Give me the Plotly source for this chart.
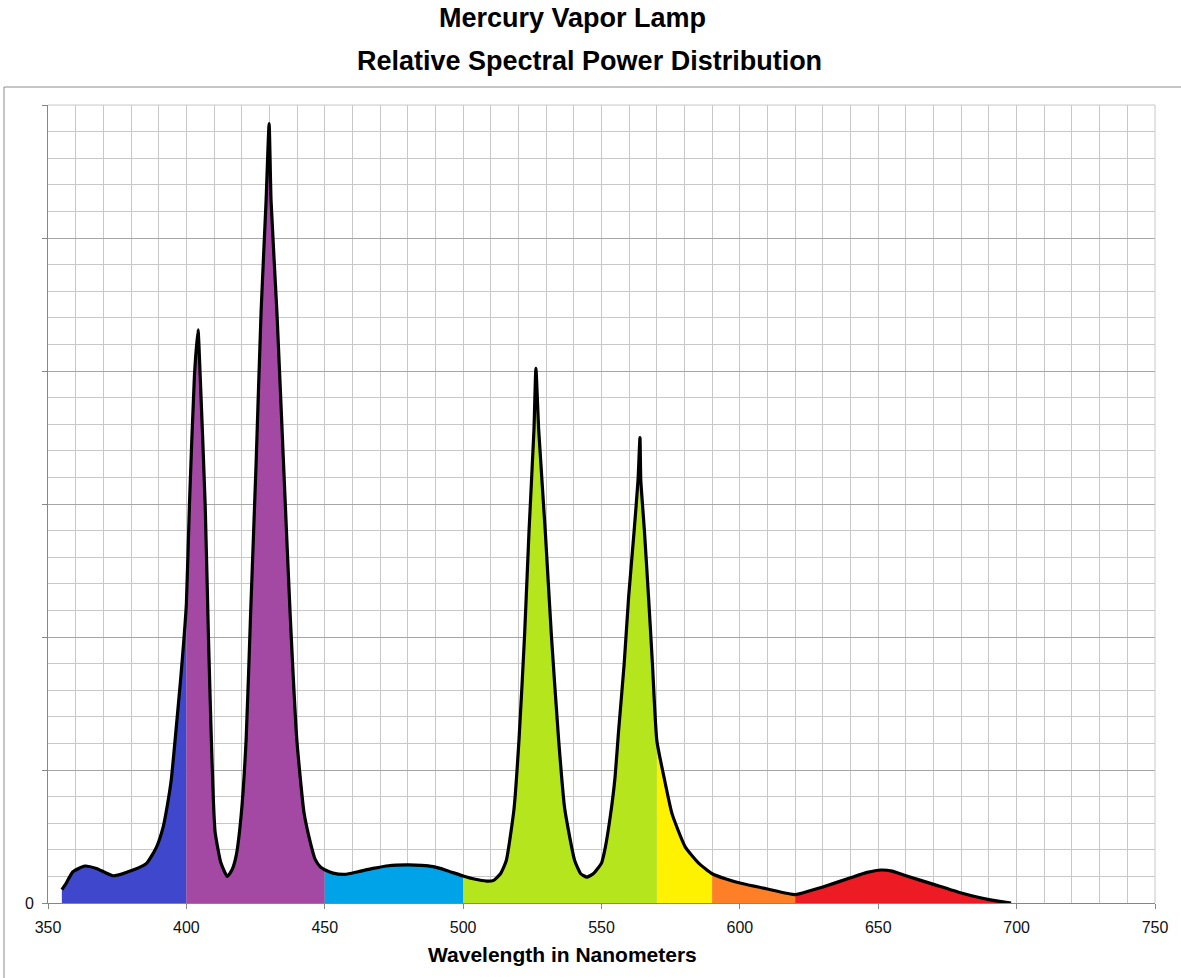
import plotly.graph_objects as go

# ---- data ----
wavelength = [
    355, 356.6, 359, 363.3, 367.5, 373.5, 380.7, 385.6, 389.2, 391.6, 393, 394.5,
    396.3, 398, 399.1, 400,
    401.1, 402.9, 404.2, 405.0, 406.8, 408.0, 408.9, 409.8, 410.4, 412.5, 414.8,
    416.5, 418.0, 419.8, 421.6, 423.2, 425.2, 427.0, 428.8, 429.9, 430.6, 432.7,
    435.1, 437.5, 439.9, 442.5, 444.5, 446.5, 448.5, 450,
    453, 457.3, 462, 467.5, 473, 479.6, 485, 489.2, 494, 500,
    504, 508.5, 511, 513.5, 515.6, 518.4, 520.2, 522.2, 523.8, 525.6, 526.3,
    527.3, 529.7, 531.9, 534.5, 536.7, 540.3, 542.5, 544.7, 547, 550, 551.4,
    553.3, 554.8, 556.2, 558.2, 559.8, 561.8, 563.2, 563.9, 564.2, 565.5, 567,
    568.4, 570,
    572.8, 575.5, 580.3, 585.1, 590,
    595, 600, 610, 620,
    625, 630, 640, 646, 651, 655, 660, 670, 680, 690, 698,
]
power = [
    10, 15, 23.5, 27.8, 26, 20.5, 24.8, 29.8, 42, 57, 72, 92,
    131, 170, 198, 225,
    299, 396, 431, 396, 299, 198, 131, 75, 53, 30, 20,
    25, 35.6, 66, 123, 217, 331, 445, 528, 586, 528, 445,
    331, 217, 123, 68, 48, 33, 27, 25,
    22.5, 21.5, 23.5, 26, 28, 28.6, 28.3, 27.3, 24.5, 20.3,
    18, 16.5, 17, 22, 32, 71, 123, 201, 279, 356, 402,
    356, 279, 201, 123, 71, 32, 22, 19.5, 22, 30, 42,
    67, 92.5, 130, 180, 230, 280, 318, 350, 318, 280, 230,
    180, 122,
    92.5, 67, 42, 30, 22,
    18, 15, 10.5, 6.3,
    9, 12, 19, 23, 24.8, 24, 20.5, 14, 7.5, 2.5, 0,
]

band_edges = [355, 400, 450, 500, 570, 590, 620, 698]
band_colors = ["#3F48CC", "#A349A4", "#00A2E8", "#B5E61D", "#FFF200", "#FF7F27", "#ED1C24"]

x_tick_vals = [350, 400, 450, 500, 550, 600, 650, 700, 750]
y_tick_vals = [0, 100, 200, 300, 400, 500, 600]
y_tick_text = ["0", "", "", "", "", "", ""]

title_1 = "Mercury Vapor Lamp"
title_2 = "Relative Spectral Power Distribution"
x_title = "Wavelength in Nanometers"

# ---- figure ----
fig = go.Figure()

SMOOTH = 0.5
for lo, hi, col in zip(band_edges[:-1], band_edges[1:], band_colors):
    bx = [w for w in wavelength if lo <= w <= hi]
    by = [p for w, p in zip(wavelength, power) if lo <= w <= hi]
    fig.add_trace(go.Scatter(
        x=bx, y=by, mode="lines",
        line=dict(width=0, color=col, shape="spline", smoothing=SMOOTH),
        fill="tozeroy", fillcolor=col, hoverinfo="skip", showlegend=False,
    ))

fig.add_trace(go.Scatter(
    x=wavelength, y=power, mode="lines",
    line=dict(color="black", width=3.2, shape="spline", smoothing=SMOOTH),
    showlegend=False,
))

W, H = 1181, 978
L, R, T, B = 48, 26, 105, 75
pw, ph = W - L - R, H - T - B

def px_x(px):
    return (px - L) / pw

def px_y(py):
    return (H - B - py) / ph

FONT = "Liberation Sans, Arial, sans-serif"
axis_font = dict(family=FONT, size=16, color="#111111")

fig.update_layout(
    width=W, height=H,
    margin=dict(l=L, r=R, t=T, b=B),
    paper_bgcolor="white", plot_bgcolor="white",
    showlegend=False,
    xaxis=dict(
        range=[350, 750], tickvals=x_tick_vals, ticks="outside", ticklen=5,
        tickcolor="#868686", showline=True, linecolor="#868686", linewidth=1,
        showgrid=True, gridcolor="#c8c8c8", gridwidth=1,
        minor=dict(dtick=10, showgrid=True, gridcolor="#c8c8c8", gridwidth=1, ticks=""),
        tickfont=axis_font, zeroline=False, fixedrange=True,
        ticklabelstandoff=5,
    ),
    yaxis=dict(
        range=[0, 600], tickvals=y_tick_vals, ticktext=y_tick_text,
        ticks="outside", ticklen=5, tickcolor="#868686",
        showline=True, linecolor="#868686", linewidth=1,
        showgrid=True, gridcolor="#a6a6a6", gridwidth=1,
        minor=dict(dtick=20, showgrid=True, gridcolor="#c8c8c8", gridwidth=1, ticks=""),
        tickfont=axis_font, zeroline=False, fixedrange=True,
        ticklabelstandoff=5,
    ),
    annotations=[
        dict(text="<b>" + title_1 + "</b>", xref="paper", yref="paper",
             x=px_x(572.5), y=px_y(18), xanchor="center", yanchor="middle",
             showarrow=False, font=dict(family=FONT, size=27, color="black")),
        dict(text="<b>" + title_2 + "</b>", xref="paper", yref="paper",
             x=px_x(589), y=px_y(61), xanchor="center", yanchor="middle",
             showarrow=False, font=dict(family=FONT, size=27, color="black")),
        dict(text="<b>" + x_title + "</b>", xref="paper", yref="paper",
             x=px_x(562), y=px_y(955), xanchor="center", yanchor="middle",
             showarrow=False, font=dict(family=FONT, size=21, color="black")),
    ],
    shapes=[
        dict(type="rect", xref="paper", yref="paper",
             x0=px_x(4), x1=px_x(1190), y0=px_y(1000), y1=px_y(87),
             line=dict(color="#8c8c8c", width=1), fillcolor="rgba(0,0,0,0)", layer="below"),
        dict(type="line", xref="paper", yref="paper",
             x0=0, x1=1, y0=1, y1=1, line=dict(color="#c8c8c8", width=1)),
        dict(type="line", xref="paper", yref="paper",
             x0=1, x1=1, y0=0, y1=1, line=dict(color="#c8c8c8", width=1)),
    ],
)

fig.write_html("out.html")
